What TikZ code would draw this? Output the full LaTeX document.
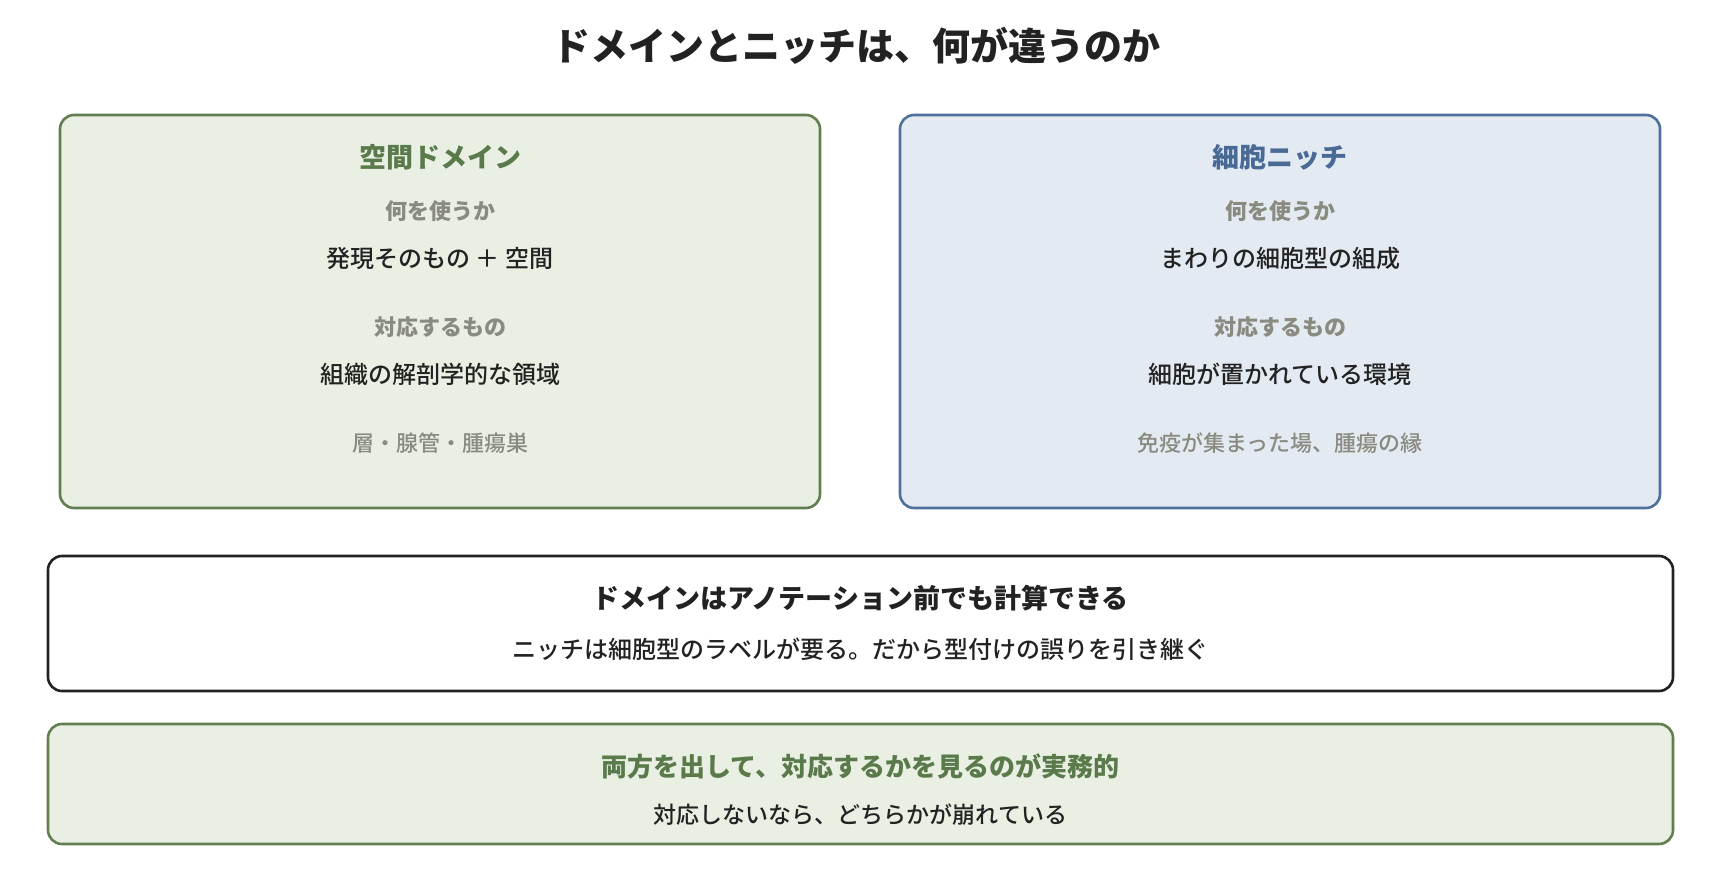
\documentclass[tikz,border=0pt]{standalone}
\usepackage{fontspec}
\setmainfont{Noto Sans CJK JP}
\newfontfamily\midweight{Noto Sans CJK JP}[UprightFont=* Medium]
\usepackage{tikz}
\definecolor{leafline}{HTML}{607E50}
\definecolor{leaffill}{HTML}{E9F0E3}
\definecolor{leafink}{HTML}{5B7A4B}
\definecolor{skyline}{HTML}{50709C}
\definecolor{skyfill}{HTML}{E3EAF2}
\definecolor{skyink}{HTML}{4A6A96}
\definecolor{mutedink}{HTML}{8A8B80}
\definecolor{darkink}{HTML}{222222}

\begin{document}
\begin{tikzpicture}[x=1pt, y=-1pt,
  every node/.style = {inner sep=0pt, align=center, text=darkink},
  panel/.style = {draw, rounded corners=14pt, line width=2.6pt},
  head/.style = {font=\bfseries\fontsize{27}{32}\selectfont},
  ask/.style = {text=mutedink, font=\bfseries\fontsize{22}{26}\selectfont},
  answer/.style = {font=\midweight\fontsize{24}{28}\selectfont},
  hint/.style = {text=mutedink, font=\midweight\fontsize{22}{26}\selectfont}]
  \useasboundingbox (0,0) rectangle (1720,880);

  \node[font=\bfseries\fontsize{38}{45}\selectfont] (title) at (856,46)
    {ドメインとニッチは、何が違うのか};

  \node[panel, draw=leafline, fill=leaffill,
    minimum width=760pt, minimum height=393pt] (domain) at (440,311.5) {};
  \node[head, text=leafink] (domainhead) at (440,157) {空間ドメイン};
  \node[ask] (domainuse) at (440,211) {何を使うか};
  \node[answer] (domainuseval) at (440,258) {発現そのもの ＋ 空間};
  \node[ask] (domainmatch) at (440,327) {対応するもの};
  \node[answer] (domainmatchval) at (440,374) {組織の解剖学的な領域};
  \node[hint] (domainex) at (440,443) {層・腺管・腫瘍巣};

  \node[panel, draw=skyline, fill=skyfill,
    minimum width=760pt, minimum height=393pt] (niche) at (1280,311.5) {};
  \node[head, text=skyink] (nichehead) at (1280,157) {細胞ニッチ};
  \node[ask] (nicheuse) at (1280,211) {何を使うか};
  \node[answer] (nicheuseval) at (1280,258) {まわりの細胞型の組成};
  \node[ask] (nichematch) at (1280,327) {対応するもの};
  \node[answer] (nichematchval) at (1280,374) {細胞が置かれている環境};
  \node[hint] (nicheex) at (1280,443) {免疫が集まった場、腫瘍の縁};

  \node[panel, draw=darkink, fill=white,
    minimum width=1625pt, minimum height=135pt] (caveat) at (860.5,623.5) {};
  \node[head] (caveathead) at (860.5,598) {ドメインはアノテーション前でも計算できる};
  \node[answer] (caveattext) at (860.5,649) {ニッチは細胞型のラベルが要る。だから型付けの誤りを引き継ぐ};

  \node[panel, draw=leafline, fill=leaffill,
    minimum width=1625pt, minimum height=120pt] (advice) at (860.5,784) {};
  \node[head, text=leafink, font=\bfseries\fontsize{26}{31}\selectfont]
    (advicehead) at (860.5,766) {両方を出して、対応するかを見るのが実務的};
  \node[answer, font=\midweight\fontsize{23}{28}\selectfont]
    (advicetext) at (860.5,815) {対応しないなら、どちらかが崩れている};
\end{tikzpicture}
\end{document}
